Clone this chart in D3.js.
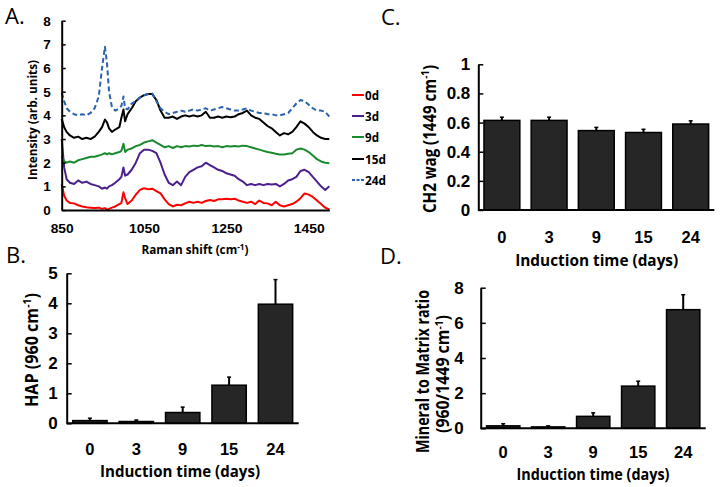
<!DOCTYPE html>
<html><head><meta charset="utf-8">
<script src="https://cdn.jsdelivr.net/npm/d3@7"></script>
<style>
html,body{margin:0;padding:0;background:#fff;}
svg{display:block;font-family:"Open Sans",Lato,sans-serif;}
</style></head>
<body>
<svg id="chart" width="721" height="487"></svg>
<script>
// ---------- DATA ----------
const ramanShift = [850,856,862,870,880,890,900,910,920,930,940,948,955,960,965,972,980,990,995,1000,1004,1010,1020,1030,1040,1050,1060,1070,1080,1090,1100,1110,1120,1130,1140,1150,1160,1170,1180,1190,1200,1210,1220,1230,1240,1250,1260,1270,1280,1290,1300,1310,1320,1330,1340,1350,1360,1370,1380,1390,1400,1410,1420,1430,1440,1450,1460,1470,1480,1490,1500];
const spec0d = [1.1,0.6,0.4,0.3,0.28,0.2,0.15,0.12,0.1,0.08,0.1,0.05,0.08,0.0,0.05,0.1,0.15,0.25,0.3,0.75,0.5,0.25,0.4,0.65,0.85,0.92,0.88,0.9,0.8,0.7,0.45,0.25,0.15,0.22,0.2,0.28,0.35,0.3,0.35,0.3,0.38,0.42,0.38,0.45,0.45,0.48,0.45,0.48,0.4,0.35,0.3,0.35,0.25,0.4,0.3,0.28,0.2,0.35,0.2,0.15,0.2,0.25,0.35,0.5,0.7,0.65,0.55,0.4,0.25,0.1,0.02];
const spec3d = [3.0,1.8,1.3,1.15,1.1,1.25,1.15,1.2,1.1,1.05,1.0,0.9,0.95,0.9,1.0,1.05,1.15,1.3,1.4,1.8,1.45,1.5,1.7,2.0,2.4,2.55,2.55,2.5,2.4,2.0,1.5,1.15,1.05,1.2,1.05,1.4,1.6,1.7,1.8,1.85,2.0,1.9,1.8,1.7,1.65,1.55,1.5,1.45,1.3,1.2,1.05,1.1,1.05,1.1,1.05,1.1,1.08,1.1,1.0,1.1,1.25,1.3,1.4,1.65,1.7,1.6,1.4,1.2,1.0,0.85,1.0];
const spec9d = [2.3,2.05,2.0,2.05,2.0,2.1,2.15,2.2,2.25,2.25,2.3,2.35,2.4,2.35,2.4,2.35,2.4,2.45,2.5,2.8,2.45,2.55,2.6,2.7,2.75,2.85,2.9,2.95,2.85,2.75,2.65,2.7,2.62,2.7,2.65,2.7,2.68,2.72,2.7,2.75,2.7,2.72,2.68,2.7,2.65,2.7,2.68,2.7,2.68,2.72,2.7,2.65,2.6,2.55,2.5,2.45,2.42,2.38,2.35,2.35,2.38,2.4,2.55,2.6,2.55,2.45,2.3,2.15,2.05,2.0,1.98];
const spec15d = [3.85,3.5,3.3,3.15,3.05,3.1,3.0,3.05,3.0,3.1,3.3,3.5,3.82,3.7,3.45,3.3,3.4,3.5,3.9,4.25,3.75,4.05,4.3,4.6,4.75,4.85,4.9,4.9,4.65,4.2,3.9,3.9,3.95,3.85,3.95,4.0,3.95,4.0,3.95,4.0,4.15,3.9,3.9,3.95,3.9,3.95,3.92,3.95,4.05,4.1,4.2,4.0,3.9,3.85,3.7,3.55,3.45,3.3,3.15,3.25,3.2,3.3,3.5,3.75,3.65,3.5,3.3,3.15,3.05,3.0,3.0];
const spec24d = [4.95,4.6,4.3,4.15,4.05,4.0,4.05,4.0,4.1,4.3,4.8,6.0,6.9,6.2,5.0,4.35,4.2,4.3,4.4,4.8,4.3,4.25,4.5,4.6,4.75,4.85,4.9,4.92,4.6,4.3,4.15,4.05,4.1,4.15,4.2,4.15,4.2,4.25,4.2,4.25,4.3,4.2,4.25,4.3,4.35,4.3,4.25,4.2,4.2,4.25,4.3,4.2,4.15,4.1,4.1,4.05,4.05,4.0,4.0,4.05,4.1,4.3,4.5,4.65,4.6,4.45,4.3,4.2,4.2,4.15,3.95];
const seriesNames = ["0d","3d","9d","15d","24d"];
const seriesColors = ["#ff0000","#4b1f8e","#1a8a2e","#000000","#2a62b0"];
const ramanTicks = [850,1050,1250,1450];
const intensityTicks = [0,1,2,3,4,5,6,7,8];

const days = ["0","3","9","15","24"];
const hapValues = [0.09,0.06,0.36,1.27,3.97];
const hapErrors = [0.08,0.05,0.18,0.27,0.82];
const hapTicks = [0,1,2,3,4,5];
const ch2Values = [0.615,0.615,0.545,0.532,0.59];
const ch2Errors = [0.022,0.022,0.022,0.022,0.022];
const ch2Ticks = [0,0.2,0.4,0.6,0.8,1];
const ratioValues = [0.14,0.08,0.68,2.4,6.75];
const ratioErrors = [0.12,0.06,0.2,0.28,0.85];
const ratioTicks = [0,2,4,6,8];

// ---------- DRAW ----------
const svg = d3.select("#chart");

function styleAxis(g){
  g.select(".domain").attr("stroke","#000").attr("stroke-width",2);
  g.selectAll(".tick line").attr("stroke","#000").attr("stroke-width",1.5);
  g.selectAll(".tick text").attr("fill","#000").attr("font-weight","bold");
}

function fitText(t, w){
  t.attr("textLength", w).attr("lengthAdjust","spacingAndGlyphs");
}

// Panel letters
[["A.",5,24],["B.",6,263],["C.",381,25],["D.",380,264]].forEach(d=>{
  svg.append("text").attr("x",d[1]).attr("y",d[2]).attr("font-size",22).text(d[0]);
});

// ----- Panel A -----
{
  const x = d3.scaleLinear().domain([850,1500]).range([61.7,329.3]);
  const y = d3.scaleLinear().domain([0,8]).range([210,20.7]);
  const series = [spec0d,spec3d,spec9d,spec15d,spec24d];
  const line = d3.line().x(d=>x(d[0])).y(d=>y(d[1]));
  series.forEach((s,i)=>{
    svg.append("path").datum(ramanShift.map((r,j)=>[r,s[j]]))
      .attr("d",line).attr("fill","none").attr("stroke",seriesColors[i])
      .attr("stroke-width",2).attr("stroke-linejoin","round")
      .attr("stroke-dasharray", i===4 ? "5,3" : null);
  });
  const ya = svg.append("g").attr("transform",`translate(${x(850)},0)`)
    .call(d3.axisLeft(y).tickValues(intensityTicks).tickSize(-4).tickSizeOuter(0).tickPadding(11));
  styleAxis(ya); ya.selectAll(".tick text").attr("font-size",13.5);
  const xa = svg.append("g").attr("transform",`translate(0,${y(0)})`)
    .call(d3.axisBottom(x).tickValues(ramanTicks).tickFormat(d3.format("d")).tickSize(0).tickSizeOuter(0));
  styleAxis(xa); xa.selectAll(".tick text").attr("font-size",13).attr("y",18.5).attr("dy","0.35em");
  xa.selectAll(".tick text").each(function(){ fitText(d3.select(this), this.textContent.length===3 ? 23 : 31); });
  const yt = svg.append("text").attr("transform","translate(32,120) rotate(-90)")
    .attr("text-anchor","middle").attr("dy","0.35em").attr("font-size",13).attr("font-weight","bold")
    .text("Intensity (arb. units)");
  fitText(yt,120);
  const xt = svg.append("text").attr("x",195).attr("y",250).attr("text-anchor","middle")
    .attr("dy","0.35em").attr("font-size",11.5).attr("font-weight","bold");
  xt.append("tspan").text("Raman shift (cm");
  xt.append("tspan").attr("font-size",8).attr("dy",-4).text("-1");
  xt.append("tspan").attr("dy",4).text(")");
  fitText(xt,107);
  const leg = svg.append("g");
  const legY = [95,116,137,159,180];
  seriesNames.forEach((n,i)=>{
    leg.append("line").attr("x1",352).attr("x2",364).attr("y1",legY[i]).attr("y2",legY[i])
      .attr("stroke",seriesColors[i]).attr("stroke-width",2)
      .attr("stroke-dasharray", i===4 ? "3,1.5" : null);
    const lt = leg.append("text").attr("x",365).attr("y",legY[i]).attr("dy","0.35em")
      .attr("font-size",13).attr("font-weight","bold").text(n);
    fitText(lt, n.length===2 ? 14 : 21);
  });
}

function barPanel(cfg){
  const x = d3.scaleBand().domain(days).range(cfg.xr).paddingInner(cfg.pad).paddingOuter(cfg.pad/2);
  const y = d3.scaleLinear().domain(cfg.domain).range(cfg.yr);
  const g = svg.append("g");
  g.selectAll("rect").data(cfg.values).join("rect")
    .attr("x",(d,i)=>x(days[i])).attr("width",x.bandwidth())
    .attr("y",d=>y(d)).attr("height",d=>y(0)-y(d))
    .attr("fill","#262626").attr("stroke","#000").attr("stroke-width",1.5);
  cfg.values.forEach((v,i)=>{
    const cx = x(days[i]) + x.bandwidth()/2;
    g.append("line").attr("x1",cx).attr("x2",cx).attr("y1",y(v)).attr("y2",y(v+cfg.errors[i]))
      .attr("stroke","#000").attr("stroke-width",2);
    g.append("line").attr("x1",cx-2).attr("x2",cx+2).attr("y1",y(v+cfg.errors[i])).attr("y2",y(v+cfg.errors[i]))
      .attr("stroke","#000").attr("stroke-width",1.5);
  });
  const ya = svg.append("g").attr("transform",`translate(${cfg.xr[0]},0)`)
    .call(d3.axisLeft(y).tickValues(cfg.ticks).tickFormat(cfg.fmt).tickSize(-5).tickSizeOuter(0).tickPadding(cfg.ypad));
  styleAxis(ya); ya.selectAll(".tick text").attr("font-size",cfg.fs);
  const xa = svg.append("g").attr("transform",`translate(0,${y(0)})`)
    .call(d3.axisBottom(x).tickSize(0).tickSizeOuter(0));
  xa.select(".domain").attr("d",`M${cfg.xr[0]},0H${cfg.xr[1]}`);
  styleAxis(xa); xa.selectAll(".tick text").attr("font-size",cfg.fs-0.5).attr("y",cfg.xoff).attr("dy","0.35em");
  const xt = svg.append("text").attr("x",cfg.xt[0]).attr("y",cfg.xt[1]).attr("text-anchor","middle")
    .attr("dy","0.35em").attr("font-size",16.5).attr("font-weight","bold").text("Induction time (days)");
  fitText(xt,cfg.xt[2]);
  return g;
}

function supLabel(x, y, parts, fs, w){
  const t = svg.append("text").attr("transform",`translate(${x},${y}) rotate(-90)`)
    .attr("text-anchor","middle").attr("dy","0.35em").attr("font-size",fs).attr("font-weight","bold");
  t.append("tspan").text(parts[0]);
  t.append("tspan").attr("font-size",fs*0.65).attr("dy",-fs*0.38).text("-1");
  t.append("tspan").attr("dy",fs*0.38).text(parts[1]);
  fitText(t,w);
  return t;
}

// ----- Panel B -----
barPanel({xr:[66.7,298.7], pad:0.26, domain:[0,5], yr:[423.3,273.3], values:hapValues, errors:hapErrors,
  ticks:hapTicks, fmt:d3.format("d"), ypad:9, fs:17, xoff:26, xt:[180,471,160]});
supLabel(31.7, 350, ["HAP (960 cm",")"], 17.5, 114);

// ----- Panel C -----
barPanel({xr:[478.3,714.3], pad:0.24, domain:[0,1], yr:[210,64.3], values:ch2Values, errors:ch2Errors,
  ticks:ch2Ticks, fmt:d=>d===0||d===1?d3.format("d")(d):d3.format(".1f")(d), ypad:8, fs:17, xoff:27, xt:[596.7,260.5,163]});
supLabel(430, 139, ["CH2 wag (1449 cm",")"], 17.5, 148);

// ----- Panel D -----
barPanel({xr:[480.7,705.7], pad:0.26, domain:[0,8], yr:[428.3,287.7], values:ratioValues, errors:ratioErrors,
  ticks:ratioTicks, fmt:d3.format("d"), ypad:17, fs:17, xoff:23.5, xt:[593,474,153]});
{
  const t1 = svg.append("text").attr("transform","translate(423.3,371.5) rotate(-90)")
    .attr("text-anchor","middle").attr("dy","0.35em").attr("font-size",17).attr("font-weight","bold")
    .text("Mineral to Matrix ratio");
  fitText(t1,163);
  supLabel(443.3, 374, ["(960/1449 cm",")"], 17, 118);
}
</script>
</body></html>
